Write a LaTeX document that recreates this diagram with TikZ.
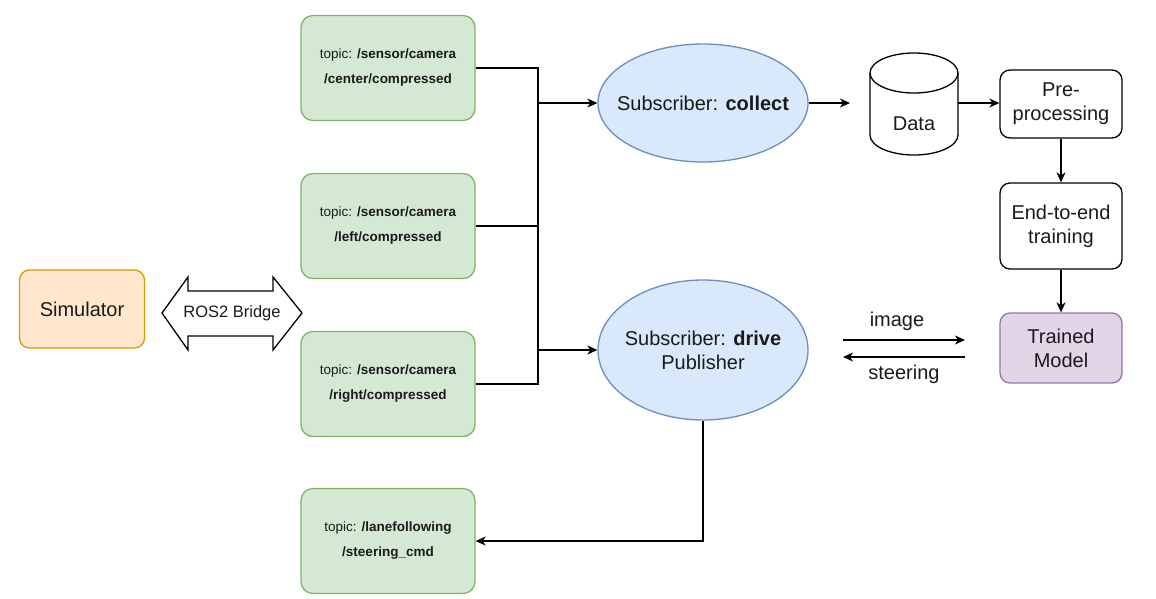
\documentclass[tikz,border=0pt]{standalone}
\usepackage{fontspec}
\setmainfont{Liberation Sans}
\usepackage{xcolor}
\usepackage{tikz}
\usetikzlibrary{arrows.meta, shapes.geometric}
\definecolor{SimFill}{HTML}{FFE6CC}
\definecolor{SimLine}{HTML}{D79B00}
\definecolor{TopicFill}{HTML}{D5E8D4}
\definecolor{TopicLine}{HTML}{82B366}
\definecolor{NodeFill}{HTML}{DAE8FC}
\definecolor{NodeLine}{HTML}{6C8EBF}
\definecolor{ModelFill}{HTML}{E1D5E7}
\definecolor{ModelLine}{HTML}{9673A6}
\definecolor{Ink}{HTML}{1A1A1A}

\tikzset{
	topic/.style={draw=TopicLine, fill=TopicFill, rounded corners=12pt, minimum width=174pt, minimum height=105pt, align=center, font=\fontsize{13.5}{25}\selectfont},
	rosnode/.style={ellipse, draw=NodeLine, fill=NodeFill, minimum width=210pt, inner sep=0pt},
	bigtext/.style={align=center, font=\fontsize{20}{24}\selectfont},
	stepbox/.style={draw, rounded corners=10pt, minimum width=122pt, bigtext}
}

\begin{document}
\begin{tikzpicture}[x=1pt, y=-1pt, line width=1.3pt, text=Ink, >={Stealth[length=10pt, width=9pt, inset=3pt]}]
		\useasboundingbox (0, 0) rectangle (1156, 598);
		
		\node [draw=SimLine, fill=SimFill, rounded corners=10pt, minimum width=125pt, minimum height=78pt, bigtext] (sim) at (82, 309) {Simulator};
		
		% ROS2 bridge
		\draw (162, 313) -- (188, 277) -- (188, 291) -- (273, 291) -- (273, 277) -- (302, 313) -- (273, 350) -- (273, 336) -- (188, 336) -- (188, 350) -- cycle;
		\node [font=\fontsize{16.5}{20}\selectfont] (bridge) at (232, 313) {ROS2 Bridge};
		
		\node [topic] (cam1) at (388, 68) {topic: \textbf{/sensor/camera}\\\textbf{/center/compressed}};
		\node [topic] (cam2) at (388, 226) {topic: \textbf{/sensor/camera}\\\textbf{/left/compressed}};
		\node [topic] (cam3) at (388, 384) {topic: \textbf{/sensor/camera}\\\textbf{/right/compressed}};
		\node [topic] (steer) at (388, 541) {topic: \textbf{/lanefollowing}\\\textbf{/steering\_cmd}};
		
		\node [rosnode, minimum height=118pt] (collect) at (703, 103) {};
		\node [bigtext] (collect-txt) at (collect) {Subscriber: \textbf{collect}};
		\node [rosnode, minimum height=140pt] (drive) at (703, 350) {};
		\node [bigtext] (drive-txt) at (drive) {Subscriber: \textbf{drive}\\Publisher};
		
		\coordinate (bus) at (538, 0);
		\draw (cam1.east) -- (cam1.east -| bus) -- (cam3.east -| bus) -- (cam3.east);
		\draw (cam2.east) -- (cam2.east -| bus);
		\draw [->] (collect.west -| bus) -- (collect.west);
		\draw [->] (drive.west -| bus) -- (drive.west);
		\draw [->] (drive.south) |- (steer.east);
		
		% data store
		\draw [fill=white] (870, 73) -- (870, 135) arc (180:0:44 and 20) -- (958, 73) arc (0:-180:44 and 20) -- cycle;
		\draw (870, 73) arc (180:0:44 and 20);
		\node [bigtext] (data) at (914, 124) {Data};
		\coordinate (data-in) at (850, 103);
		\coordinate (data-out) at (958, 103);
		
		\node [stepbox, minimum height=68pt] (prep) at (1061, 104) {Pre-\\processing};
		\node [stepbox, minimum height=86pt] (train) at (1061, 226) {End-to-end\\training};
		\node [stepbox, draw=ModelLine, fill=ModelFill, minimum height=70pt] (model) at (1061, 348) {Trained\\Model};
		
		\draw [->] (collect.east) -- (data-in);
		\draw [->] (data-out) -- (prep.west |- data-out);
		\draw [->] (prep) -- (train);
		\draw [->] (train) -- (model);
		
		\coordinate (img-a) at (843, 340);
		\coordinate (img-b) at (965, 340);
		\coordinate (str-a) at (965, 357);
		\coordinate (str-b) at (843, 357);
		\draw [->] (img-a) -- node [above=5pt, xshift=-7pt, bigtext] {image} (img-b);
		\draw [->] (str-a) -- node [below=4pt, bigtext] {steering} (str-b);
	\end{tikzpicture}
\end{document}
